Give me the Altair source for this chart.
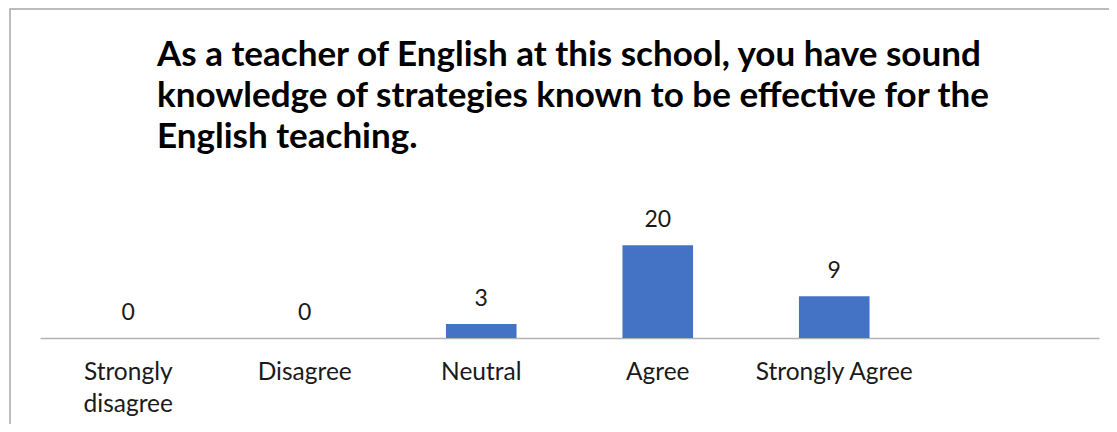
import altair as alt
import pandas as pd

categories = ["Strongly disagree", "Disagree", "Neutral", "Agree", "Strongly Agree"]
counts = [0, 0, 3, 20, 9]
slot_domain = categories + [""]
title_lines = [
    "As a teacher of English at this school, you have sound",
    "knowledge of strategies known to be effective for the",
    "English teaching.",
]

df = pd.DataFrame({"category": categories, "count": counts})
frame_df = pd.DataFrame({"k": [0]})

FONT = "Lato"
TEXT_COLOR = "#1a1a1a"

x_enc = alt.X(
    "category:N",
    sort=slot_domain,
    scale=alt.Scale(domain=slot_domain, paddingInner=0.6, paddingOuter=0.3),
    axis=alt.Axis(
        title=None,
        labelAngle=0,
        ticks=False,
        domainColor="#b3b3b3",
        domainWidth=1.5,
        labelFont=FONT,
        labelFontSize=24.5,
        labelColor=TEXT_COLOR,
        labelBaseline="top",
        labelPadding=22,
        labelLineHeight=32,
        labelExpr="datum.value == 'Strongly disagree' ? ['Strongly', 'disagree'] : datum.value",
    ),
)
y_enc = alt.Y("count:Q", scale=alt.Scale(domain=[0, 25]), axis=None)

bars = alt.Chart(df).mark_bar(color="#4472C4").encode(x=x_enc, y=y_enc)
labels = alt.Chart(df).mark_text(
    dy=-18, baseline="alphabetic", fontSize=23, font=FONT, color=TEXT_COLOR
).encode(x=x_enc, y=y_enc, text="count:Q")
border = alt.Chart(frame_df).mark_rect(
    fillOpacity=0, stroke="#a6a6a6", strokeWidth=1.5
).encode(x=alt.value(-30), x2=alt.value(3000), y=alt.value(-213), y2=alt.value(3000))

chart = (
    alt.layer(border, bars, labels)
    .properties(
        width=1059,
        height=116,
        autosize=alt.AutoSizeParams(type="none"),
        padding={"left": 32, "top": 214, "right": 10, "bottom": 86},
        title=alt.TitleParams(
            text=title_lines,
            anchor="start",
            frame="group",
            dx=117,
            offset=-147,
            baseline="top",
            font=FONT,
            fontSize=35,
            fontWeight="bold",
            color="#000000",
            lineHeight=41,
        ),
    )
    .configure_view(stroke=None)
)

chart.save("out.html", embed_options={"renderer": "svg", "actions": False})
